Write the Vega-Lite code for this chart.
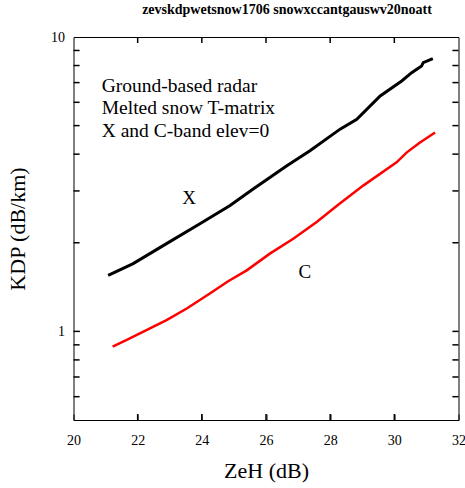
{
  "$schema": "https://vega.github.io/schema/vega-lite/v6.json",
  "width": 385,
  "height": 383,
  "autosize": "none",
  "padding": {"left": 73.5, "top": 37, "right": 6.5, "bottom": 68},
  "background": "white",
  "config": {
    "font": "Liberation Serif",
    "view": {"stroke": "black", "strokeWidth": 1, "fill": null},
    "axis": {
      "domain": false,
      "labelColor": "black",
      "titleColor": "black",
      "labelFont": "Liberation Serif",
      "titleFont": "Liberation Serif",
      "titleFontWeight": "normal",
      "grid": false
    }
  },
  "title": {
    "text": "zevskdpwetsnow1706 snowxccantgauswv20noatt",
    "font": "Liberation Serif",
    "fontSize": 14,
    "fontWeight": "bold",
    "color": "black",
    "anchor": "middle",
    "dx": 21,
    "offset": 13
  },
  "datasets": {
    "curves": [
      {"band": "X", "zeh": 21.08, "kdp": 1.551},
      {"band": "X", "zeh": 21.86, "kdp": 1.699},
      {"band": "X", "zeh": 22.9, "kdp": 1.986},
      {"band": "X", "zeh": 23.94, "kdp": 2.32},
      {"band": "X", "zeh": 24.88, "kdp": 2.676},
      {"band": "X", "zeh": 25.6, "kdp": 3.047},
      {"band": "X", "zeh": 26.65, "kdp": 3.654},
      {"band": "X", "zeh": 27.37, "kdp": 4.108},
      {"band": "X", "zeh": 28.31, "kdp": 4.864},
      {"band": "X", "zeh": 28.83, "kdp": 5.257},
      {"band": "X", "zeh": 29.56, "kdp": 6.305},
      {"band": "X", "zeh": 30.23, "kdp": 7.087},
      {"band": "X", "zeh": 30.54, "kdp": 7.565},
      {"band": "X", "zeh": 30.85, "kdp": 7.965},
      {"band": "X", "zeh": 30.9, "kdp": 8.179},
      {"band": "X", "zeh": 31.2, "kdp": 8.438},
      {"band": "C", "zeh": 21.22, "kdp": 0.887},
      {"band": "C", "zeh": 21.66, "kdp": 0.935},
      {"band": "C", "zeh": 22.18, "kdp": 0.998},
      {"band": "C", "zeh": 22.9, "kdp": 1.092},
      {"band": "C", "zeh": 23.53, "kdp": 1.196},
      {"band": "C", "zeh": 24.25, "kdp": 1.345},
      {"band": "C", "zeh": 24.82, "kdp": 1.48},
      {"band": "C", "zeh": 25.4, "kdp": 1.612},
      {"band": "C", "zeh": 26.12, "kdp": 1.837},
      {"band": "C", "zeh": 26.85, "kdp": 2.064},
      {"band": "C", "zeh": 27.58, "kdp": 2.351},
      {"band": "C", "zeh": 28.25, "kdp": 2.691},
      {"band": "C", "zeh": 29.03, "kdp": 3.127},
      {"band": "C", "zeh": 30.07, "kdp": 3.752},
      {"band": "C", "zeh": 30.39, "kdp": 4.057},
      {"band": "C", "zeh": 30.8, "kdp": 4.385},
      {"band": "C", "zeh": 31.27, "kdp": 4.74}
    ],
    "notes": [
      {"zeh": 20.88, "kdp": 6.505, "text": "Ground-based radar"},
      {"zeh": 20.88, "kdp": 5.497, "text": "Melted snow T-matrix"},
      {"zeh": 20.88, "kdp": 4.58, "text": "X and C-band elev=0"}
    ],
    "labels": [
      {"zeh": 23.6, "kdp": 2.848, "text": "X"},
      {"zeh": 27.21, "kdp": 1.587, "text": "C"}
    ],
    "xticks": [
      {"zeh": 22}, {"zeh": 24}, {"zeh": 26}, {"zeh": 28}, {"zeh": 30}
    ],
    "yticks": [
      {"kdp": 0.6}, {"kdp": 0.7}, {"kdp": 0.8}, {"kdp": 0.9}, {"kdp": 1},
      {"kdp": 2}, {"kdp": 3}, {"kdp": 4}, {"kdp": 5}, {"kdp": 6}, {"kdp": 7}, {"kdp": 8}, {"kdp": 9}
    ]
  },
  "resolve": {"axis": {"x": "independent", "y": "independent"}},
  "layer": [
    {
      "data": {"name": "curves"},
      "transform": [{"filter": "datum.band == 'X'"}],
      "mark": {"type": "line", "color": "black", "strokeWidth": 3},
      "encoding": {
        "x": {
          "field": "zeh", "type": "quantitative",
          "scale": {"domain": [20, 32], "nice": false, "zero": false},
          "axis": {
            "orient": "bottom", "title": "ZeH (dB)", "values": [20, 22, 24, 26, 28, 30, 32],
            "tickSize": -6, "tickColor": "black", "labelPadding": 19, "labelFontSize": 14, "titleFontSize": 22,
            "titlePadding": 13, "labelFlush": false
          }
        },
        "y": {
          "field": "kdp", "type": "quantitative",
          "scale": {"type": "log", "domain": [0.5, 10], "nice": false},
          "axis": {
            "orient": "left", "title": "KDP (dB/km)",
            "values": [1, 10],
            "format": "~g",
            "tickSize": -6, "tickColor": "black", "labelPadding": 15, "labelFontSize": 14, "titleFontSize": 22,
            "titlePadding": 21, "labelFlush": false
          }
        }
      }
    },
    {
      "data": {"name": "curves"},
      "transform": [{"filter": "datum.band == 'C'"}],
      "mark": {"type": "line", "color": "#ff0000", "strokeWidth": 2.5},
      "encoding": {
        "x": {"field": "zeh", "type": "quantitative", "axis": null},
        "y": {"field": "kdp", "type": "quantitative", "axis": null}
      }
    },
    {
      "data": {"name": "xticks"},
      "mark": {"type": "rule", "color": "black", "strokeWidth": 1.5},
      "encoding": {
        "x": {"field": "zeh", "type": "quantitative", "axis": null},
        "y": {"datum": 0.5, "type": "quantitative", "axis": null},
        "y2": {"datum": 0.524}
      }
    },
    {
      "data": {"name": "xticks"},
      "mark": {"type": "rule", "color": "black", "strokeWidth": 1.5},
      "encoding": {
        "x": {"field": "zeh", "type": "quantitative", "axis": null},
        "y": {"datum": 10, "type": "quantitative", "axis": null},
        "y2": {"datum": 9.54}
      }
    },
    {
      "data": {"name": "yticks"},
      "mark": {"type": "rule", "color": "black", "strokeWidth": 1.5},
      "encoding": {
        "y": {"field": "kdp", "type": "quantitative", "axis": null},
        "x": {"datum": 20, "type": "quantitative", "axis": null},
        "x2": {"datum": 20.19}
      }
    },
    {
      "data": {"name": "yticks"},
      "mark": {"type": "rule", "color": "black", "strokeWidth": 1.5},
      "encoding": {
        "y": {"field": "kdp", "type": "quantitative", "axis": null},
        "x": {"datum": 32, "type": "quantitative", "axis": null},
        "x2": {"datum": 31.81}
      }
    },
    {
      "data": {"name": "notes"},
      "mark": {"type": "text", "align": "left", "baseline": "alphabetic", "fontSize": 19.5, "font": "Liberation Serif", "color": "black"},
      "encoding": {
        "x": {"field": "zeh", "type": "quantitative", "axis": null},
        "y": {"field": "kdp", "type": "quantitative", "axis": null},
        "text": {"field": "text"}
      }
    },
    {
      "data": {"name": "labels"},
      "mark": {"type": "text", "align": "center", "baseline": "middle", "fontSize": 19, "font": "Liberation Serif", "color": "black"},
      "encoding": {
        "x": {"field": "zeh", "type": "quantitative", "axis": null},
        "y": {"field": "kdp", "type": "quantitative", "axis": null},
        "text": {"field": "text"}
      }
    }
  ]
}
